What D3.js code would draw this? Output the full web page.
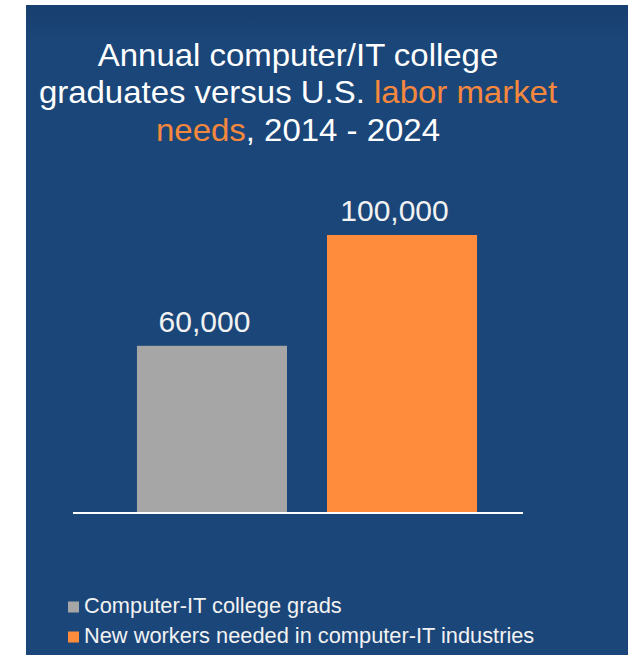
<!DOCTYPE html>
<html>
<head>
<meta charset="utf-8">
<script src="https://cdn.jsdelivr.net/npm/d3@7"></script>
<style>
  body { margin: 0; background: #fff; }
  svg { display: block; font-family: "Liberation Sans", Arial, sans-serif; }
</style>
</head>
<body>
<svg id="chart" width="633" height="655"></svg>
<script>
// data
const categories= ["Computer-IT college grads", "New workers needed in computer-IT industries"]
const values= [60000, 100000]
const colors= ["#a6a6a6", "#ff8c3c"]

// title pieces: [text, highlighted]
const title_lines= [
    [["Annual computer/IT college", false]],
    [["graduates versus U.S. ", false], ["labor market", true]],
    [["needs", true], [", 2014 - 2024", false]],
]

const svg= d3.select("#chart")

// panel background (slightly darker at the top)
const defs= svg.append("defs")
const grad= defs.append("linearGradient")
    .attr("id", "bg").attr("x1", 0).attr("y1", 0).attr("x2", 0).attr("y2", 1)
grad.append("stop").attr("offset", 0).attr("stop-color", "#173f6f")
grad.append("stop").attr("offset", 0.06).attr("stop-color", "#1b4679")
grad.append("stop").attr("offset", 1).attr("stop-color", "#1b4679")

svg.append("rect")
    .attr("x", 26).attr("y", 5)
    .attr("width", 602).attr("height", 650)
    .attr("fill", "url(#bg)")

// title
const title_cx= 298
const title= svg.append("text")
    .attr("text-anchor", "middle")
    .attr("font-size", 32)
    .attr("fill", "#ffffff")
    .attr("transform", `translate(${title_cx},0) scale(1.03,1)`)
title_lines.forEach((line, i) => {
    const row= title.append("tspan")
        .attr("x", 0)
        .attr("y", 66 + i*37.5)
    line.forEach(([txt, hi]) => {
        row.append("tspan")
            .attr("fill", hi ? "#f5883c" : "#ffffff")
            .text(txt)
    })
})

// scales
const x= d3.scaleBand()
    .domain(categories)
    .range([117, 497])
    .paddingInner(0.2105)
    .paddingOuter(0.105)

const y= d3.scaleLinear()
    .domain([0, 100000])
    .range([512, 235])

// bars
svg.append("g")
    .selectAll("rect")
    .data(categories)
    .join("rect")
    .attr("x", d => x(d))
    .attr("y", (d, i) => y(values[i]))
    .attr("width", x.bandwidth())
    .attr("height", (d, i) => y(0) - y(values[i]))
    .attr("fill", (d, i) => colors[i])

// value labels (sit a little left of the bar centre)
const fmt= d3.format(",")
svg.append("g")
    .selectAll("text")
    .data(categories)
    .join("text")
    .attr("x", d => x(d) + x.bandwidth()/2 - 7.5)
    .attr("y", (d, i) => y(values[i]) - 14)
    .attr("text-anchor", "middle")
    .attr("font-size", 30)
    .attr("fill", "#f2f2f2")
    .text((d, i) => fmt(values[i]))

// baseline
svg.append("line")
    .attr("x1", 73).attr("x2", 523)
    .attr("y1", y(0) + 1).attr("y2", y(0) + 1)
    .attr("stroke", "#ffffff")
    .attr("stroke-width", 2)

// legend
const legend= svg.append("g")
    .selectAll("g")
    .data(categories)
    .join("g")
    .attr("transform", (d, i) => `translate(68, ${601.5 + i*30})`)
legend.append("rect")
    .attr("width", 11).attr("height", 11)
    .attr("fill", (d, i) => colors[i])
legend.append("text")
    .attr("x", 16).attr("y", 11.5)
    .attr("font-size", 21.8)
    .attr("fill", "#f2f2f2")
    .text(d => d)
</script>
</body>
</html>
